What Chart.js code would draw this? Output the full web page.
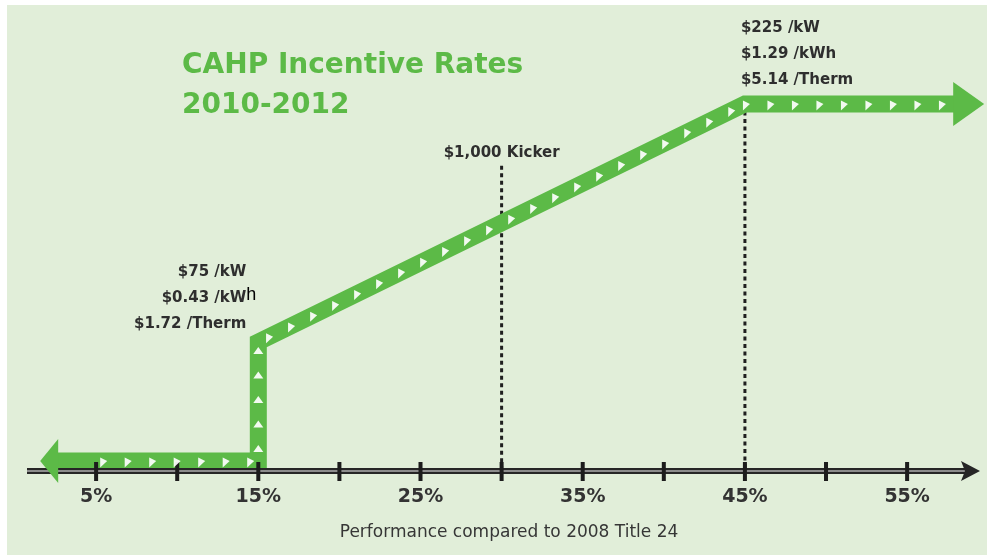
<!DOCTYPE html>
<html>
<head>
<meta charset="utf-8">
<script src="https://cdn.jsdelivr.net/npm/chart.js@4.4.1/dist/chart.umd.min.js"></script>
<style>
  html, body { margin: 0; padding: 0; background: #fff; }
  #wrap { width: 987px; height: 555px; }
</style>
</head>
<body>
<div id="wrap"><canvas id="rates" width="987" height="555"></canvas></div>
<script>
// x = performance compared to 2008 Title 24 (%), y = incentive level ($/kW)
const perf = [2.6, 15, 15, 45, 57.9];
const rateKW = [0, 0, 75, 225, 225];
const tickValues = [5, 10, 15, 20, 25, 30, 35, 40, 45, 50, 55];
const tickLabels = ['5%', '', '15%', '', '25%', '', '35%', '', '45%', '', '55%'];
const lowRates = ['$75 /kW', '$0.43 /kWh', '$1.72 /Therm'];
const highRates = ['$225 /kW', '$1.29 /kWh', '$5.14 /Therm'];
const kickerAt = 30;
const kickerLabel = '$1,000 Kicker';
const titleLines = ['CAHP Incentive Rates', '2010-2012'];
const axisTitle = 'Performance compared to 2008 Title 24';

const GREEN = '#5cba47';
const BG = '#e1eed9';
const INK = '#2e2e2e';
const FONT = "'DejaVu Sans', sans-serif";

// ----- decoration plugin: background, axis, arrows, chevrons, labels -----
const decor = {
  id: 'decor',
  beforeDraw(chart) {
    const c = chart.ctx;
    c.save();
    c.fillStyle = '#fff';
    c.fillRect(0, 0, chart.width, chart.height);
    c.fillStyle = BG;
    c.fillRect(7, 5, chart.width - 7, chart.height - 5);
    c.restore();
  },
  beforeDatasetsDraw(chart) {
    const c = chart.ctx, xs = chart.scales.x, ys = chart.scales.y;
    const base = chart.chartArea.bottom;
    c.save();
    c.strokeStyle = '#1f1f1f';
    c.lineWidth = 3;
    c.setLineDash([4, 3.5]);
    c.beginPath();
    c.moveTo(xs.getPixelForValue(kickerAt), ys.getPixelForValue(186));
    c.lineTo(xs.getPixelForValue(kickerAt), base);
    c.moveTo(xs.getPixelForValue(perf[3]), ys.getPixelForValue(rateKW[3]));
    c.lineTo(xs.getPixelForValue(perf[3]), base);
    c.stroke();
    c.restore();
  },
  afterDatasetsDraw(chart) {
    const c = chart.ctx, xs = chart.scales.x, ys = chart.scales.y;
    const base = chart.chartArea.bottom;
    const pts = perf.map((v, i) => ({ x: xs.getPixelForValue(v), y: ys.getPixelForValue(rateKW[i]) }));
    c.save();

    // axis line with arrow
    c.beginPath();
    c.moveTo(27, base);
    c.lineTo(966, base);
    c.strokeStyle = '#262626';
    c.lineWidth = 6;
    c.stroke();
    c.strokeStyle = '#8c8c8c';
    c.lineWidth = 2;
    c.stroke();
    c.fillStyle = '#262626';
    c.beginPath();
    c.moveTo(980, base);
    c.lineTo(961, base - 10);
    c.lineTo(965, base);
    c.lineTo(961, base + 10);
    c.closePath();
    c.fill();

    // green arrow heads
    c.fillStyle = GREEN;
    const first = pts[0], last = pts[pts.length - 1];
    c.beginPath();
    c.moveTo(first.x - 17, first.y);
    c.lineTo(first.x + 1, first.y - 22);
    c.lineTo(first.x + 1, first.y + 22);
    c.closePath();
    c.fill();
    c.beginPath();
    c.moveTo(last.x + 30, last.y);
    c.lineTo(last.x - 1, last.y - 22);
    c.lineTo(last.x - 1, last.y + 22);
    c.closePath();
    c.fill();

    // tick marks
    c.fillStyle = '#1c1c1c';
    tickValues.forEach(v => {
      const x = xs.getPixelForValue(v);
      c.fillRect(x - 2, base - 9, 4, 19);
    });

    // white chevrons along the path (point right, or up on the riser)
    c.fillStyle = 'rgba(255,255,255,0.92)';
    const offsets = [46, 12, 12, 1];
    for (let i = 0; i < pts.length - 1; i++) {
      const a = pts[i], b = pts[i + 1];
      const dx = b.x - a.x, dy = b.y - a.y, len = Math.hypot(dx, dy);
      if (!len) continue;
      const ux = dx / len, uy = dy / len;
      const up = Math.abs(dx) < 0.5;
      const end = len - (i === pts.length - 2 ? 12 : 6);
      for (let d = offsets[i]; d <= end; d += 24.5) {
        const px = a.x + ux * d, py = a.y + uy * d;
        c.beginPath();
        if (up) {
          c.moveTo(px, py - 4);
          c.lineTo(px - 5, py + 3);
          c.lineTo(px + 5, py + 3);
        } else {
          c.moveTo(px + 4, py);
          c.lineTo(px - 3, py - 5 + 1.5);
          c.lineTo(px - 3, py + 5 + 1.5);
        }
        c.closePath();
        c.fill();
      }
    }

    // rate labels
    c.fillStyle = INK;
    c.font = 'bold 15px ' + FONT;
    c.textBaseline = 'middle';
    const lowX = pts[2].x - 12;
    lowRates.forEach((t, i) => {
      const y = pts[2].y - 70 + i * 26;
      if (i === 1 && t.endsWith('h')) {
        c.textAlign = 'right';
        c.fillText(t.slice(0, -1), lowX, y);
        c.textAlign = 'left';
        c.font = "18px 'Liberation Sans', sans-serif";
        c.fillStyle = '#000';
        c.fillText('h', lowX, y - 3);
        c.fillStyle = INK;
        c.font = 'bold 15px ' + FONT;
      } else {
        c.textAlign = 'right';
        c.fillText(t, lowX, y);
      }
    });
    c.textAlign = 'left';
    highRates.forEach((t, i) => {
      c.fillText(t, pts[3].x - 4, pts[3].y - 76 + i * 26);
    });
    c.textAlign = 'center';
    c.fillText(kickerLabel, xs.getPixelForValue(kickerAt), 153);

    // title
    c.fillStyle = GREEN;
    c.font = 'bold 28px ' + FONT;
    c.textAlign = 'left';
    c.textBaseline = 'alphabetic';
    c.fillText(titleLines[0], 182, 73);
    c.fillText(titleLines[1], 182, 113);

    // axis title
    c.fillStyle = '#363636';
    c.font = '17px ' + FONT;
    c.textAlign = 'center';
    c.textBaseline = 'middle';
    c.fillText(axisTitle, 509, 533);
    c.restore();
  }
};

new Chart(document.getElementById('rates'), {
  type: 'line',
  data: {
    datasets: [{
      data: perf.map((v, i) => ({ x: v, y: rateKW[i] })),
      borderColor: GREEN,
      borderWidth: 17,
      borderJoinStyle: 'miter',
      borderCapStyle: 'butt',
      pointRadius: 0,
      tension: 0,
      fill: false
    }]
  },
  options: {
    responsive: false,
    devicePixelRatio: 1,
    animation: false,
    layout: { padding: { top: 5, left: 5.5, right: 14, bottom: 0 } },
    plugins: { legend: { display: false }, tooltip: { enabled: false } },
    scales: {
      x: {
        type: 'linear',
        min: 0,
        max: 59,
        grid: { display: false, drawTicks: false },
        border: { display: false },
        ticks: {
          stepSize: 5,
          autoSkip: false,
          maxRotation: 0,
          padding: 15,
          color: '#333',
          font: { family: FONT, size: 19, weight: 'bold' },
          callback: v => {
            const i = tickValues.indexOf(v);
            return i >= 0 ? tickLabels[i] : '';
          }
        },
        afterFit: s => { s.height = 84; }
      },
      y: { display: false, min: -6.3, max: 287.3 }
    }
  },
  plugins: [decor]
});
</script>
</body>
</html>
